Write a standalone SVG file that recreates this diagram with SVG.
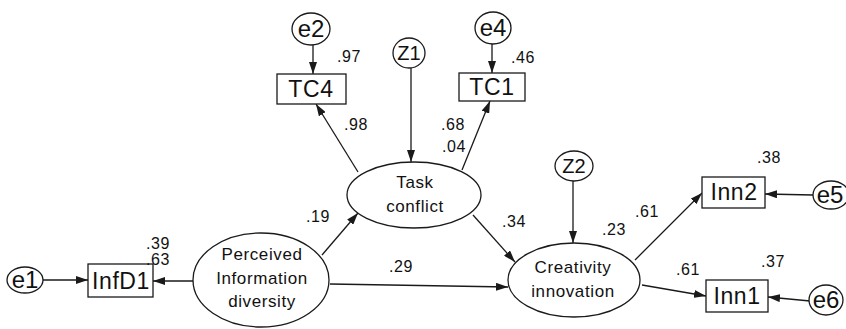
<svg xmlns="http://www.w3.org/2000/svg" width="846" height="329" viewBox="0 0 846 329">
  <defs>
    <marker id="arr" viewBox="0 0 12 8" refX="12" refY="4" markerWidth="12" markerHeight="8" markerUnits="userSpaceOnUse" orient="auto">
      <path d="M0,0 L12,4 L0,8 Z" fill="#1a1a1a"/>
    </marker>
    <style>
      .shape { fill: #ffffff; stroke: #1a1a1a; stroke-width: 1.3; }
      .edge { fill: none; stroke: #1a1a1a; stroke-width: 1.3; marker-end: url(#arr); }
      .lbl { font-family: "Liberation Sans", Arial, sans-serif; fill: #111; text-anchor: middle; }
      .box { font-size: 23px; letter-spacing: 0.6px; }
      .err { font-size: 24px; }
      .lat { font-size: 17px; letter-spacing: 0.6px; }
      .num { font-family: "Liberation Sans", Arial, sans-serif; font-size: 16px; letter-spacing: 0.6px; fill: #111; }
    </style>
  </defs>
  <rect width="846" height="329" fill="#ffffff"/>

  <!-- connectors -->
  <g id="connectors">
    <line class="edge" x1="43" y1="280" x2="88" y2="280"/>
    <line class="edge" x1="193" y1="281" x2="153" y2="281"/>
    <line class="edge" x1="313" y1="45" x2="313" y2="74"/>
    <line class="edge" x1="492" y1="44" x2="492" y2="73"/>
    <line class="edge" x1="358" y1="172" x2="316" y2="104"/>
    <line class="edge" x1="462" y1="170" x2="490" y2="101"/>
    <line class="edge" x1="411" y1="68" x2="411" y2="162"/>
    <line class="edge" x1="322" y1="255" x2="358" y2="213"/>
    <line class="edge" x1="473" y1="215" x2="515" y2="262"/>
    <line class="edge" x1="330" y1="284" x2="508" y2="287"/>
    <line class="edge" x1="573" y1="181" x2="573" y2="243"/>
    <line class="edge" x1="635" y1="260" x2="702" y2="193"/>
    <line class="edge" x1="642" y1="285" x2="706" y2="296"/>
    <line class="edge" x1="813" y1="195" x2="765" y2="194"/>
    <line class="edge" x1="810" y1="301" x2="768" y2="297"/>
  </g>

  <!-- error terms -->
  <g id="e1"><ellipse class="shape" cx="25" cy="280" rx="18" ry="13"/><text class="lbl err" x="25" y="288">e1</text></g>
  <g id="e2"><ellipse class="shape" cx="311" cy="29" rx="19" ry="16"/><text class="lbl err" x="311" y="37">e2</text></g>
  <g id="e4"><ellipse class="shape" cx="493" cy="28" rx="18" ry="16"/><text class="lbl err" x="493" y="36">e4</text></g>
  <g id="e5"><ellipse class="shape" cx="831" cy="195" rx="18" ry="14"/><text class="lbl err" x="830" y="203">e5</text></g>
  <g id="e6"><ellipse class="shape" cx="826" cy="300" rx="17" ry="15"/><text class="lbl err" x="826" y="308">e6</text></g>
  <g id="Z1"><ellipse class="shape" cx="409" cy="53" rx="16" ry="15"/><text class="lbl" style="font-size:20px" x="409" y="60">Z1</text></g>
  <g id="Z2"><ellipse class="shape" cx="574" cy="166" rx="19" ry="15"/><text class="lbl" style="font-size:20px" x="574" y="173">Z2</text></g>

  <!-- observed variables -->
  <g id="InfD1"><rect class="shape" x="88" y="264" width="65" height="33"/><text class="lbl box" x="121" y="289">InfD1</text></g>
  <g id="TC4"><rect class="shape" x="277" y="74" width="69" height="30"/><text class="lbl box" x="311" y="97">TC4</text></g>
  <g id="TC1"><rect class="shape" x="459" y="73" width="66" height="28"/><text class="lbl box" x="492" y="95">TC1</text></g>
  <g id="Inn2"><rect class="shape" x="702" y="177" width="63" height="31"/><text class="lbl box" x="734" y="200">Inn2</text></g>
  <g id="Inn1"><rect class="shape" x="706" y="280" width="62" height="32"/><text class="lbl box" x="737" y="304">Inn1</text></g>

  <!-- latent variables -->
  <g id="PerceivedInformationDiversity">
    <ellipse class="shape" cx="261" cy="280" rx="68" ry="47"/>
    <text class="lbl lat" x="262" y="260">Perceived</text>
    <text class="lbl lat" x="262" y="284">Information</text>
    <text class="lbl lat" x="262" y="307">diversity</text>
  </g>
  <g id="TaskConflict">
    <ellipse class="shape" cx="414" cy="195" rx="67" ry="33"/>
    <text class="lbl lat" x="415" y="188">Task</text>
    <text class="lbl lat" x="415" y="212">conflict</text>
  </g>
  <g id="CreativityInnovation">
    <ellipse class="shape" cx="574" cy="280" rx="66" ry="37"/>
    <text class="lbl lat" x="573" y="273">Creativity</text>
    <text class="lbl lat" x="573" y="297">innovation</text>
  </g>

  <!-- coefficients -->
  <g id="coefficients">
    <text class="num" x="146" y="249">.39</text>
    <text class="num" x="146" y="265">.63</text>
    <text class="num" x="337" y="62">.97</text>
    <text class="num" x="511" y="63">.46</text>
    <text class="num" x="344" y="130">.98</text>
    <text class="num" x="441" y="130">.68</text>
    <text class="num" x="442" y="152">.04</text>
    <text class="num" x="306" y="222">.19</text>
    <text class="num" x="502" y="227">.34</text>
    <text class="num" x="389" y="272">.29</text>
    <text class="num" x="602" y="235">.23</text>
    <text class="num" x="635" y="217">.61</text>
    <text class="num" x="757" y="163">.38</text>
    <text class="num" x="676" y="275">.61</text>
    <text class="num" x="761" y="267">.37</text>
  </g>
</svg>
